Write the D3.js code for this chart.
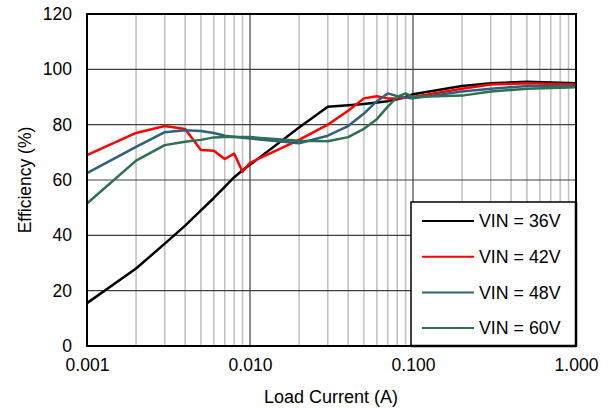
<!DOCTYPE html>
<html><head><meta charset="utf-8">
<script src="https://cdn.jsdelivr.net/npm/d3@7"></script>
<style>body{margin:0;background:#fff}svg{display:block}text{font-family:"Liberation Sans",Arial,sans-serif;fill:#000}</style>
</head><body>
<script>
const xs = [0.001,0.002,0.003,0.004,0.005,0.006,0.007,0.008,0.009,0.01,0.02,0.03,0.04,0.05,0.06,0.07,0.08,0.09,0.1,0.2,0.3,0.5,1];
const vin36 = [15.5,28,37,43.5,49,53.5,57.5,61,63.5,65.5,79,86.5,87,87.5,88,88.5,89.2,90,91,94,95,95.5,95];
const vin42 = [69,77,79.5,78.4,70.8,70.6,67.6,69.5,63,66.2,74.5,80,85,89.5,90.3,89.5,89.5,89.7,90,93,94.5,95,94.5];
const vin48 = [62.5,72,77.3,78,77.7,77,76,75.6,75.3,75,73.3,76,79.5,84,88.5,91.3,90.3,89.8,89.5,92,93,94,94];
const vin60 = [51.5,67,72.6,73.8,74.5,75.4,75.5,75.5,75.5,75.5,74.2,74,75.5,78.5,82,86.5,90,91.3,90,90.5,92,93,93.5];
const seriesNames = ["VIN = 36V","VIN = 42V","VIN = 48V","VIN = 60V"];
const seriesColors = ["#000000","#ff0000","#2f6080","#2e7050"];
const yTicks = [0,20,40,60,80,100,120];
const xTicks = [0.001,0.01,0.1,1];
const xTickLabels = ["0.001","0.010","0.100","1.000"];

const W=608,H=408, L=87, R=576, T=14, B=346;
const svg = d3.select("body").append("svg").attr("width",W).attr("height",H);
const x = d3.scaleLog().domain([0.001,1]).range([L,R]);
const y = d3.scaleLinear().domain([0,120]).range([B,T]);

// minor vertical grid
const minors=[];
[0.001,0.01,0.1].forEach(d=>{for(let k=2;k<=9;k++)minors.push(d*k);});
svg.append("g").selectAll("line").data(minors).join("line")
  .attr("x1",d=>x(d)).attr("x2",d=>x(d)).attr("y1",T).attr("y2",B)
  .attr("stroke","#bfbfbf").attr("stroke-width",1.5);
// major vertical
svg.append("g").selectAll("line").data([0.01,0.1]).join("line")
  .attr("x1",d=>x(d)).attr("x2",d=>x(d)).attr("y1",T).attr("y2",B)
  .attr("stroke","#404040").attr("stroke-width",1.2);
// horizontal grid
svg.append("g").selectAll("line").data(yTicks.slice(1,-1)).join("line")
  .attr("x1",L).attr("x2",R).attr("y1",d=>y(d)).attr("y2",d=>y(d))
  .attr("stroke","#404040").attr("stroke-width",1.2);

// lines
const allSeries=[vin36,vin42,vin48,vin60];
const line = d3.line().x((d,i)=>x(xs[i])).y(d=>y(d));
svg.append("g").selectAll("path").data(allSeries).join("path")
  .attr("d",line).attr("fill","none")
  .attr("stroke",(d,i)=>seriesColors[i]).attr("stroke-width",2.5).attr("stroke-linejoin","round");

// border
svg.append("rect").attr("x",L).attr("y",T).attr("width",R-L).attr("height",B-T)
  .attr("fill","none").attr("stroke","#000").attr("stroke-width",2);

// axes labels
const yAxis = d3.axisLeft(y).tickValues(yTicks).tickSize(0).tickPadding(15);
const gy = svg.append("g").attr("transform",`translate(${L},0)`).call(yAxis);
gy.select(".domain").remove();
gy.selectAll("text").attr("font-size",17.5).style("font-family","Liberation Sans, Arial, sans-serif");
const xAxis = d3.axisBottom(x).tickValues(xTicks).tickFormat((d,i)=>xTickLabels[i]).tickSize(0).tickPadding(13);
const gx = svg.append("g").attr("transform",`translate(0,${B})`).call(xAxis);
gx.select(".domain").remove();
gx.selectAll("text").attr("font-size",17.5).style("font-family","Liberation Sans, Arial, sans-serif");

svg.append("text").attr("x",331).attr("y",403).attr("text-anchor","middle").attr("font-size",18).text("Load Current (A)");
svg.append("text").attr("transform",`translate(31,${180}) rotate(-90)`).attr("text-anchor","middle").attr("font-size",17.5).text("Efficiency (%)");

// legend
const lg = svg.append("g");
lg.append("rect").attr("x",411).attr("y",202).attr("width",R-411).attr("height",B-202)
  .attr("fill","#fff").attr("stroke","#000").attr("stroke-width",1.5);
lg.append("line").attr("x1",R).attr("x2",R).attr("y1",202).attr("y2",B).attr("stroke","#000").attr("stroke-width",2.5);
lg.append("line").attr("x1",411).attr("x2",R).attr("y1",B).attr("y2",B).attr("stroke","#000").attr("stroke-width",2.5);
seriesNames.forEach((n,i)=>{
  const yy = 221 + i*35.7;
  lg.append("line").attr("x1",422).attr("x2",474).attr("y1",yy).attr("y2",yy).attr("stroke",seriesColors[i]).attr("stroke-width",2);
  lg.append("text").attr("x",479).attr("y",yy+6.3).attr("font-size",17.8).text(n);
});
</script>
</body></html>
